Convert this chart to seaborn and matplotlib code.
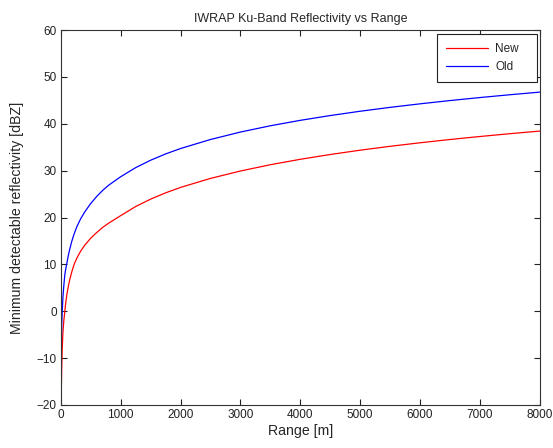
import matplotlib
matplotlib.use("Agg")
import matplotlib.pyplot as plt
import seaborn as sns
import pandas as pd

# Data
range_m = [4, 6, 10, 15, 22, 35, 50, 67, 80, 100, 125, 150, 185, 222, 270, 330,
           400, 500, 600, 700, 800, 900, 1000, 1250, 1500, 1750, 2000, 2500,
           3000, 3500, 4000, 4500, 5000, 5500, 6000, 6500, 7000, 7500, 8000]
refl_new = [-22, -19.5, -15.5, -12, -8.5, -4.5, -2, 0, 1.6, 3.5, 5.3, 6.8, 8.5,
            10, 11.4, 12.8, 14.1, 15.6, 16.8, 17.9, 18.8, 19.6, 20.4, 22.34,
            23.92, 25.26, 26.42, 28.34, 29.92, 31.26, 32.42, 33.44, 34.36,
            35.19, 35.94, 36.64, 37.28, 37.88, 38.44]
refl_old = [-11, -9, -6, -3, -0.5, 3, 5.5, 7.8, 8.9, 10.2, 11.9, 13.3, 15,
            16.5, 18.1, 19.7, 21.2, 23.0, 24.5, 25.8, 26.9, 27.8, 28.7, 30.64,
            32.22, 33.56, 34.72, 36.64, 38.23, 39.57, 40.73, 41.75, 42.67,
            43.50, 44.25, 44.95, 45.59, 46.19, 46.75]
series_names = ["New", "Old"]
xticks = list(range(0, 8001, 1000))
yticks = list(range(-20, 61, 10))

df = pd.concat([
    pd.DataFrame({"Range": range_m, "Refl": refl_new, "Series": series_names[0]}),
    pd.DataFrame({"Range": range_m, "Refl": refl_old, "Series": series_names[1]}),
])

sns.set_style("ticks")
plt.rcParams["font.family"] = ["Liberation Sans", "DejaVu Sans"]

fig = plt.figure(figsize=(5.53, 4.48), dpi=100)
fig.patch.set_facecolor("white")
ax = fig.add_axes([0.110, 0.096, 0.866, 0.837])

sns.lineplot(data=df, x="Range", y="Refl", hue="Series",
             palette={"New": "#ff0000", "Old": "#0000ff"},
             linewidth=0.9, ax=ax, sort=True, estimator=None)

ax.set_xlim(0, 8000)
ax.set_ylim(-20, 60)
ax.set_xticks(xticks)
ax.set_yticks(yticks)
ax.tick_params(direction="in", top=True, right=True, length=4, width=0.8,
               labelsize=8.5, colors="#222222", pad=3)
for s in ax.spines.values():
    s.set_visible(True)
    s.set_linewidth(0.8)
    s.set_color("#333333")

ax.set_title("IWRAP Ku-Band Reflectivity vs Range", fontsize=9, pad=6)
ax.set_xlabel("Range [m]", fontsize=10.2, labelpad=2)
ax.set_ylabel("Minimum detectable reflectivity [dBZ]", fontsize=10.2, labelpad=9)

leg = ax.legend(loc="upper left", bbox_to_anchor=(0.785, 0.5, 0.21, 0.489),
                mode="expand", fancybox=False, edgecolor="#222222",
                fontsize=8.5, handlelength=3.6, handletextpad=0.6,
                borderaxespad=0, framealpha=1, borderpad=0.75, labelspacing=0.55)
leg.get_frame().set_linewidth(0.8)

fig.savefig("out.png", dpi=100, facecolor="white")
